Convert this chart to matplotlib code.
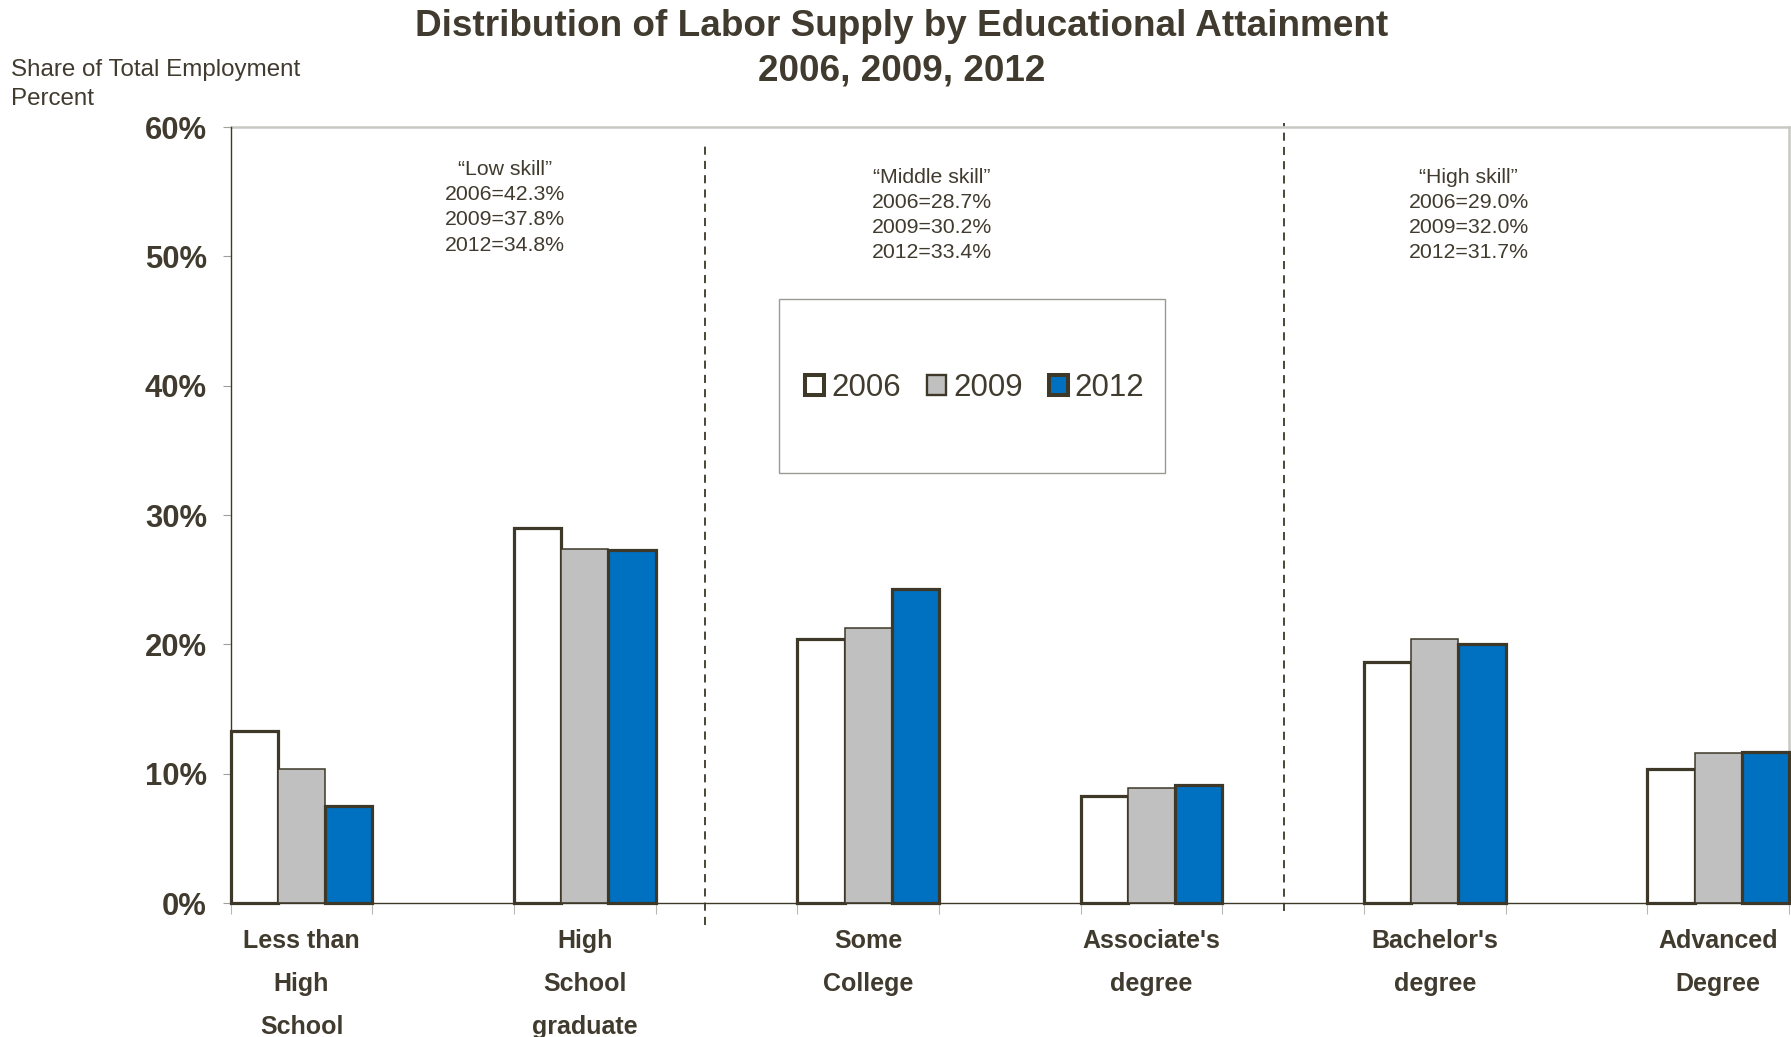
import matplotlib
matplotlib.use("Agg")
import matplotlib.pyplot as plt
from matplotlib.patches import Rectangle, Patch
from matplotlib.ticker import FixedLocator, FuncFormatter
import numpy as np

plt.rcParams['font.family'] = ['Liberation Sans', 'DejaVu Sans']

# data
categories = ["Less than\nHigh\nSchool", "High\nSchool\ngraduate", "Some\nCollege",
              "Associate's\ndegree", "Bachelor's\ndegree", "Advanced\nDegree"]
years = ["2006", "2009", "2012"]
share_2006 = [13.3, 29.0, 20.4, 8.3, 18.6, 10.4]
share_2009 = [10.4, 27.4, 21.3, 8.9, 20.4, 11.6]
share_2012 = [7.5, 27.3, 24.3, 9.1, 20.0, 11.7]
groups = ["\u201cLow skill\u201d", "\u201cMiddle skill\u201d", "\u201cHigh skill\u201d"]
group_2006 = [42.3, 28.7, 29.0]
group_2009 = [37.8, 30.2, 32.0]
group_2012 = [34.8, 33.4, 31.7]

TXT = '#403b2e'
EDGE = '#3d3828'
LIGHT = '#c8c8c2'
fills = ['white', '#c0c0c0', '#0070c0']
edge_w = [2.3, 1.1, 2.3]

fig = plt.figure(figsize=(17.91, 10.37), dpi=100)
ax = fig.add_axes([0.1288, 0.1292, 0.9989 - 0.1288, 0.8775 - 0.1292])

# each category takes one slot, with an empty slot in between
x = np.arange(len(categories)) * 2
w = 1 / 3
series = [share_2006, share_2009, share_2012]
for j, vals in enumerate(series):
    ax.bar(x + w / 2 + j * w, vals, width=w, color=fills[j], edgecolor=EDGE,
           linewidth=edge_w[j], label=years[j], zorder=3, clip_on=False)

ax.set_xlim(0, 11)
ax.set_ylim(0, 60)

ax.yaxis.set_major_locator(FixedLocator(np.arange(0, 61, 10)))
ax.yaxis.set_major_formatter(FuncFormatter(lambda v, p: f"{v:.0f}%"))
ax.tick_params(axis='y', length=6, color='#a0a09a', pad=11, labelsize=22.3,
               labelcolor=TXT)
for t in ax.get_yticklabels():
    t.set_fontweight('bold')

ax.xaxis.set_major_locator(FixedLocator(np.arange(0, 12)))
ax.xaxis.set_major_formatter(FuncFormatter(lambda v, p: ""))
ax.xaxis.set_minor_locator(FixedLocator(x + 0.5))
ax.xaxis.set_minor_formatter(FuncFormatter(lambda v, p: categories[int(v // 2)]))
ax.tick_params(axis='x', which='major', length=8, color='#b8b8b2')
ax.tick_params(axis='x', which='minor', length=0, pad=19, labelsize=18,
               labelcolor=TXT)
for t in ax.get_xticklabels(minor=True):
    t.set_fontweight('bold')
    t.set_linespacing(2.0)

for s in ['top', 'right']:
    ax.spines[s].set_color(LIGHT)
    ax.spines[s].set_linewidth(1.8)
for s in ['left', 'bottom']:
    ax.spines[s].set_color(EDGE)
    ax.spines[s].set_linewidth(1.0)
    ax.spines[s].set_zorder(4)

# dashed skill separators
ax.vlines(3.348, -1.7, 58.8, colors=EDGE, linewidth=1.3,
          linestyles=(0, (4.5, 3.4)), clip_on=False, zorder=2)
ax.vlines(7.433, -0.6, 60.3, colors=EDGE, linewidth=1.3,
          linestyles=(0, (4.5, 3.4)), clip_on=False, zorder=2)

# skill group notes
note_pos = [(1.936, 53.8), (4.95, 53.2), (8.74, 53.2)]
for g, a, b, c, (nx, ny) in zip(groups, group_2006, group_2009, group_2012, note_pos):
    s = f"{g}\n2006={a:.1f}%\n2009={b:.1f}%\n2012={c:.1f}%"
    ax.text(nx, ny, s, ha='center', va='center', fontsize=15.3, color=TXT,
            linespacing=1.42)

# legend box
fig.patches.append(Rectangle((779 / 1791, 1 - 473 / 1037), 386 / 1791, 174 / 1037,
                             transform=fig.transFigure, facecolor='white',
                             edgecolor='#9a9a94', linewidth=1.0, zorder=5))
handles = [Patch(facecolor=fills[j], edgecolor=EDGE, linewidth=edge_w[j] + 0.6,
                 label=years[j]) for j in range(3)]
leg = fig.legend(handles=handles, loc='center', bbox_to_anchor=(975 / 1791, 1 - 388 / 1037),
                 ncol=3, frameon=False, fontsize=22.5, handlelength=0.6,
                 handleheight=0.6, handletextpad=0.22, columnspacing=0.85,
                 labelcolor=TXT)
leg.set_zorder(6)

fig.text(902 / 1791, 1 - 26 / 1037, "Distribution of Labor Supply by Educational Attainment",
         ha='center', va='center', fontsize=26.6, fontweight='bold', color=TXT)
fig.text(902 / 1791, 1 - 71 / 1037, "2006, 2009, 2012",
         ha='center', va='center', fontsize=26.6, fontweight='bold', color=TXT)
fig.text(11 / 1791, 1 - 70 / 1037, "Share of Total Employment",
         ha='left', va='center', fontsize=17.4, color=TXT)
fig.text(11 / 1791, 1 - 99 / 1037, "Percent",
         ha='left', va='center', fontsize=17.4, color=TXT)

fig.savefig("out.png", dpi=100, facecolor='white')
